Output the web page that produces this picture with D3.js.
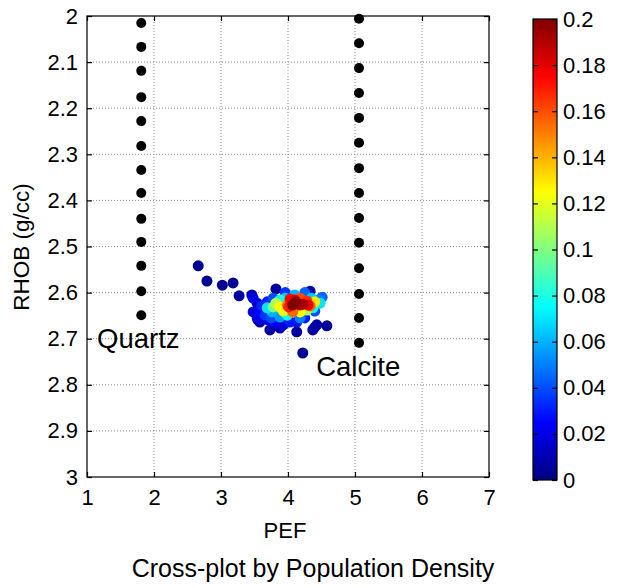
<!DOCTYPE html>
<html><head><meta charset="utf-8">
<script src="https://cdn.jsdelivr.net/npm/d3@7"></script>
<style>body{margin:0;background:#fff} text{font-family:"Liberation Sans",Arial,Helvetica,sans-serif;fill:#000}</style>
</head><body><svg id="c" width="627" height="588"></svg>
<script>
const xTicks=[1,2,3,4,5,6,7];
const yTicks=[2,2.1,2.2,2.3,2.4,2.5,2.6,2.7,2.8,2.9,3];
const cbTicks=[0,0.02,0.04,0.06,0.08,0.1,0.12,0.14,0.16,0.18,0.2];
const quartzPEF=1.81;
const quartzRHOB=[2.015,2.067,2.119,2.176,2.228,2.282,2.334,2.384,2.44,2.49,2.542,2.597,2.649];
const calcitePEF=5.06;
const calciteRHOB=[2.006,2.059,2.113,2.167,2.221,2.275,2.33,2.384,2.438,2.492,2.547,2.603,2.655,2.709];
const clusterPEF=[2.66,2.79,3.02,3.18,3.27,3.46,3.82,4.33,4.22,4.37,4.43,4.58,4.13,3.54,3.55,3.58,3.88,3.73,4.40,
 3.48,3.48,3.54,3.58,3.69,3.70,3.81,3.93,4.13,4.51,3.78,3.61,3.66,4.03,4.25,4.45,4.25,3.96,4.40,3.75,
 3.88,3.69,3.96,3.88,3.99,4.37,4.48,4.10,3.76,4.18,4.35,
 3.78,3.88,4.18,4.28,4.40,3.82,3.93,
 3.99,4.07,4.18,4.28,4.33,
 4.03,4.10,4.30,4.01,
 4.18,4.07,4.12,4.22];
const clusterRHOB=[2.542,2.575,2.584,2.579,2.607,2.605,2.592,2.597,2.731,2.681,2.670,2.672,2.685,2.623,2.659,2.664,2.677,2.681,2.675,
 2.612,2.642,2.655,2.638,2.620,2.659,2.664,2.670,2.664,2.610,2.612,2.629,2.649,2.664,2.655,2.616,2.600,2.600,2.640,2.655,
 2.653,2.633,2.612,2.616,2.649,2.633,2.623,2.605,2.642,2.655,2.612,
 2.631,2.631,2.642,2.638,2.620,2.623,2.640,
 2.627,2.642,2.612,2.618,2.629,
 2.614,2.616,2.627,2.631,
 2.627,2.627,2.620,2.625];
const clusterDensity=[0.004,0.004,0.004,0.004,0.006,0.008,0.006,0.008,0.004,0.006,0.008,0.004,0.006,0.012,0.01,0.01,0.008,0.008,0.008,
 0.02,0.018,0.02,0.025,0.03,0.025,0.022,0.018,0.028,0.045,0.04,0.032,0.035,0.03,0.03,0.05,0.045,0.035,0.04,0.04,
 0.055,0.07,0.065,0.08,0.075,0.075,0.07,0.06,0.06,0.05,0.065,
 0.1,0.125,0.125,0.11,0.13,0.11,0.12,
 0.15,0.155,0.16,0.165,0.155,
 0.175,0.18,0.18,0.17,
 0.19,0.2,0.198,0.192];

const svg=d3.select("#c");
const x=d3.scaleLinear().domain([1,7]).range([87,489]);
const y=d3.scaleLinear().domain([2,3]).range([16,477]);
const cb=d3.scaleLinear().domain([0,0.2]).range([480,19]);
const cl=v=>Math.max(0,Math.min(1,v));
function jet(t){t=cl(t);return d3.rgb(255*cl(1.5-Math.abs(4*t-3)),255*cl(1.5-Math.abs(4*t-2)),255*cl(1.5-Math.abs(4*t-1))).formatHex();}
const color=v=>jet(v/0.2);

const [x0,x1]=x.range(),[y0,y1]=y.range();
// grid
const g=svg.append("g");
g.selectAll(".gx").data(xTicks.slice(1,-1)).enter().append("line")
 .attr("x1",d=>x(d)).attr("x2",d=>x(d)).attr("y1",y0).attr("y2",y1)
 .attr("stroke","#8c8c8c").attr("stroke-width",1).attr("stroke-dasharray","1,2");
g.selectAll(".gy").data(yTicks.slice(1,-1)).enter().append("line")
 .attr("y1",d=>y(d)).attr("y2",d=>y(d)).attr("x1",x0).attr("x2",x1)
 .attr("stroke","#8c8c8c").attr("stroke-width",1).attr("stroke-dasharray","1,2");

// points
const pts=svg.append("g");
pts.selectAll(".q").data(quartzRHOB).enter().append("circle")
 .attr("cx",x(quartzPEF)).attr("cy",d=>y(d)).attr("r",5).attr("fill","#000");
pts.selectAll(".c").data(calciteRHOB).enter().append("circle")
 .attr("cx",x(calcitePEF)).attr("cy",d=>y(d)).attr("r",5).attr("fill","#000");
const cluster=clusterPEF.map((p,i)=>({p,r:clusterRHOB[i],d:clusterDensity[i]})).sort((a,b)=>a.d-b.d);
pts.selectAll(".k").data(cluster).enter().append("circle")
 .attr("cx",d=>x(d.p)).attr("cy",d=>y(d.r)).attr("r",5.5).attr("fill",d=>color(d.d));

// axes: box with inside ticks
const ax=svg.append("g");
ax.append("rect").attr("x",x0).attr("y",y0).attr("width",x1-x0).attr("height",y1-y0)
 .attr("fill","none").attr("stroke","#000").attr("stroke-width",1.2);
const axB=d3.axisBottom(x).tickValues(xTicks).tickSize(-5).tickFormat(d3.format("d"));
const axT=d3.axisTop(x).tickValues(xTicks).tickSize(-5).tickFormat("");
const axL=d3.axisLeft(y).tickValues(yTicks).tickSize(-5).tickFormat(d=>d3.format("")(d));
const axR=d3.axisRight(y).tickValues(yTicks).tickSize(-5).tickFormat("");
function styl(sel){sel.select(".domain").remove();sel.selectAll("line").attr("stroke","#000").attr("stroke-width",1.2);sel.selectAll("text").attr("font-size",22).attr("font-family","Liberation Sans, Arial, sans-serif").attr("fill","#000");}
ax.append("g").attr("transform",`translate(0,${y1})`).call(axB).call(styl).selectAll("text").attr("dy",null).attr("y",28);
ax.append("g").attr("transform",`translate(0,${y0})`).call(axT).call(styl);
ax.append("g").attr("transform",`translate(${x0},0)`).call(axL).call(styl).selectAll("text").attr("x",-9);
ax.append("g").attr("transform",`translate(${x1},0)`).call(axR).call(styl);

// labels
svg.append("text").attr("x",x(1.15)).attr("y",y(2.70)).attr("dy","0.35em").attr("font-size",27.5).text("Quartz");
svg.append("text").attr("x",x(4.42)).attr("y",y(2.76)).attr("dy","0.35em").attr("font-size",27.5).text("Calcite");
svg.append("text").attr("x",285).attr("y",538).attr("text-anchor","middle").attr("font-size",22).text("PEF");
svg.append("text").attr("transform",`translate(29,247) rotate(-90)`).attr("text-anchor","middle").attr("font-size",22.5).text("RHOB (g/cc)");
svg.append("text").attr("x",313).attr("y",577).attr("text-anchor","middle").attr("font-size",25).text("Cross-plot by Population Density");

// colorbar
const cbx0=533,cbx1=557;
const defs=svg.append("defs");
const grad=defs.append("linearGradient").attr("id","jet").attr("x1",0).attr("y1",1).attr("x2",0).attr("y2",0);
d3.range(0,65).forEach(i=>grad.append("stop").attr("offset",i/64).attr("stop-color",jet(i/64)));
const [cy0,cy1]=[cb(0.2),cb(0)];
svg.append("rect").attr("x",cbx0).attr("y",cy0).attr("width",cbx1-cbx0).attr("height",cy1-cy0).attr("fill","url(#jet)");
const cbl=d3.axisLeft(cb).tickValues(cbTicks).tickSize(-5).tickFormat("");
const cbr=d3.axisRight(cb).tickValues(cbTicks).tickSize(-5).tickFormat(d=>d3.format("")(+d.toFixed(2)));
svg.append("g").attr("transform",`translate(${cbx0},0)`).call(cbl).call(styl);
svg.append("g").attr("transform",`translate(${cbx1},0)`).call(cbr).call(styl).selectAll("text").attr("x",6);
svg.append("rect").attr("x",cbx0).attr("y",cy0).attr("width",cbx1-cbx0).attr("height",cy1-cy0)
 .attr("fill","none").attr("stroke","#000").attr("stroke-width",1.2);
</script></body></html>
